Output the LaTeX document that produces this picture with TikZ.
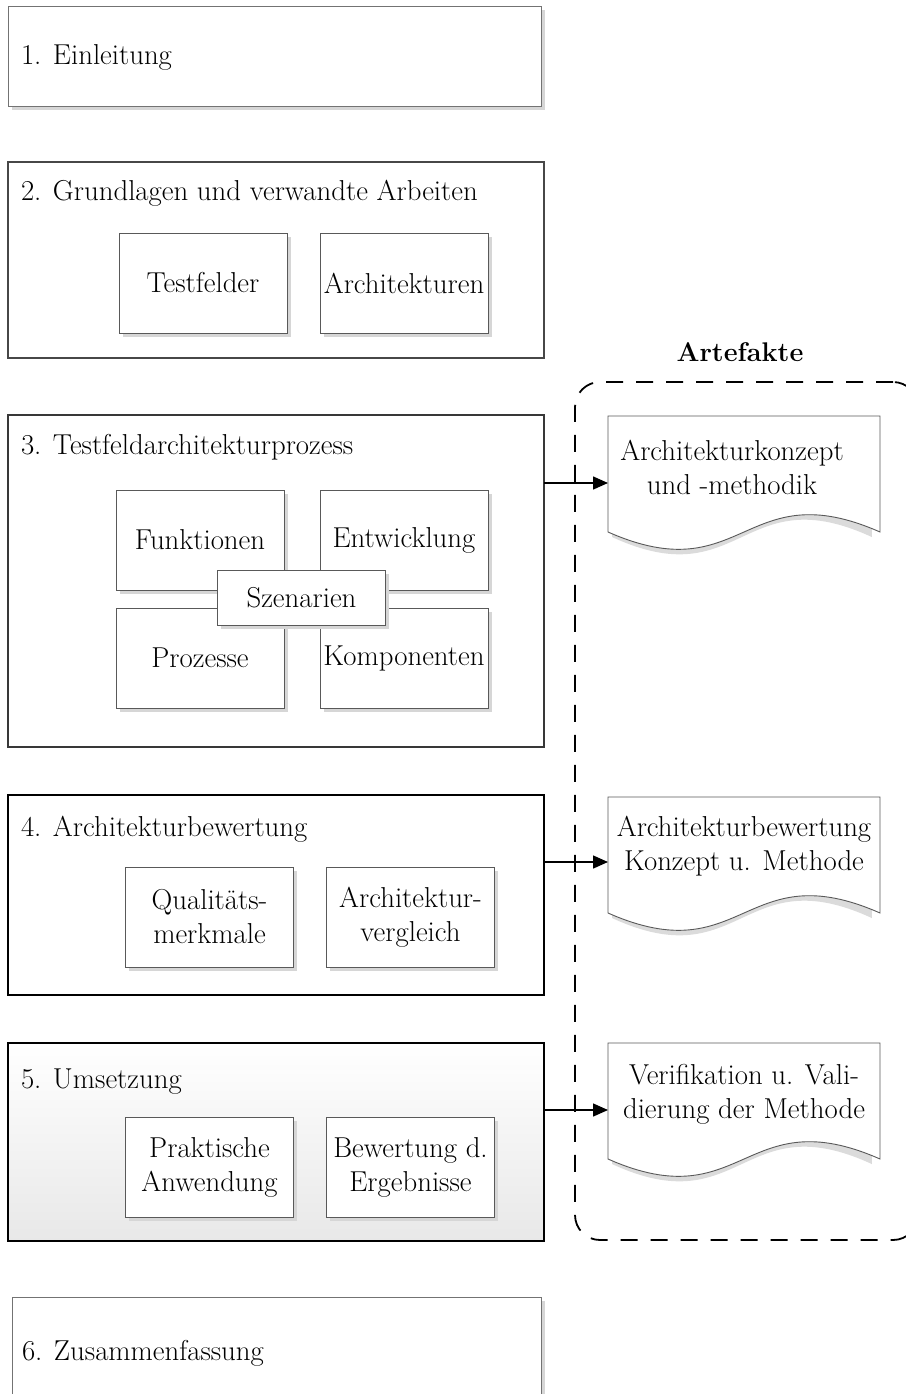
\documentclass[tikz,border=0pt]{standalone}
\usetikzlibrary{arrows.meta,shadows}
\begin{document}
\begin{tikzpicture}[x=1pt,y=-1pt,
  every node/.style={font=\fontsize{28.8}{34}\selectfont, inner sep=0pt, outer sep=0pt},
  shd/.style={drop shadow={shadow xshift=3.5pt, shadow yshift=-3.5pt, fill=black!16, opacity=1}},
  chapter/.style={minimum width=536pt, line width=1.3pt, draw=black!72},
  lightchapter/.style={minimum width=533pt, line width=1pt, draw=black!55, fill=white, shd},
  subbox/.style={draw=black!65, line width=0.9pt, fill=white, shd,
                 minimum width=168pt, minimum height=100pt, align=center},
  title/.style={anchor=base west},
  arr/.style={line width=1.5pt, -{Triangle[length=15pt,width=13pt]}},
  docline/.style={draw=black!65, line width=0.9pt, fill=white},
  docshadow/.style={fill=black!14},
  artframe/.style={draw=black, line width=1.8pt, dash pattern=on 17pt off 13pt,
                   rounded corners=25pt}]
\useasboundingbox (0,0) rectangle (905,1394);

% ---- chapter 1 ----
\node[lightchapter, minimum height=100pt] (b1) at (274.5,57) {};
\node[title] (t1) at (21,65) {1. Einleitung};

% ---- chapter 2 ----
\node[chapter, minimum height=196pt] (b2) at (276,260) {};
\node[title] (t2) at (21,200) {2. Grundlagen und verwandte Arbeiten};
\node[subbox] (testf) at (203,283) {Testfelder};
\node[subbox] (archi) at (404,283) {Architekturen};

% ---- chapter 3 ----
\node[chapter, minimum height=332pt, draw=black!78] (b3) at (276,581) {};
\node[title] (t3) at (21,454) {3. Testfeldarchitekturprozess};
\node[subbox] (funk) at (200,540) {Funktionen};
\node[subbox] (entw) at (404,540) {Entwicklung};
\node[subbox] (proz) at (200,658) {Prozesse};
\node[subbox] (komp) at (404,658) {Komponenten};
\node[subbox, minimum width=168pt, minimum height=55pt] (szen) at (301.5,597.5) {Szenarien};

% ---- chapter 4 ----
\node[chapter, minimum height=200pt, draw=black, line width=2pt] (b4) at (276,895) {};
\node[title] (t4) at (21,836) {4. Architekturbewertung};
\node[subbox] (qual) at (209.5,917) {Qualitäts-\\merkmale};
\node[subbox] (avgl) at (410.5,917) {Architektur-\\vergleich};

% ---- chapter 5 ----
\node[chapter, minimum height=198pt, draw=black, line width=2pt,
      top color=white, bottom color=black!9] (b5) at (276,1142) {};
\node[title] (t5) at (21,1088) {5. Umsetzung};
\node[subbox] (prak) at (209.5,1167) {Praktische\\Anwendung};
\node[subbox] (bew) at (410.5,1167) {Bewertung d.\\Ergebnisse};

% ---- chapter 6 ----
\node[lightchapter, minimum width=529pt, minimum height=130pt] (b6) at (276.5,1362) {};
\node[title] (t6) at (22,1360) {6. Zusammenfassung};

% ---- artefacts frame ----
\node[artframe, minimum width=343pt, minimum height=858pt] (art) at (746.5,811) {};
\node[font=\fontsize{27}{32}\selectfont\bfseries] (artlbl) at (740,352) {Artefakte};

% ---- documents ----
\foreach \top in {416, 797, 1043}{
  \begin{scope}[shift={(612,\top+5)}, xscale=0.955]
    \path[docshadow] (0,0) -- (272,0) -- (272,116)
      .. controls (136,56) and (136,176) .. (0,116) -- cycle;
  \end{scope}
  \begin{scope}[shift={(608,\top)}]
    \path[docline] (0,0) -- (272,0) -- (272,116)
      .. controls (136,56) and (136,176) .. (0,116) -- cycle;
  \end{scope}
}
\node[align=center] (d1) at (732,467) {Architekturkonzept\\und -methodik};
\node[align=center] (d2) at (744,846) {Architekturbewertung\\Konzept u. Methode};
\node[align=center] (d3) at (744,1094) {Verifikation u. Vali-\\dierung der Methode};

% ---- connectors ----
\coordinate (d1in) at (608,483);
\coordinate (d2in) at (608,862);
\coordinate (d3in) at (608,1110);
\draw[arr] (b3.east |- d1in) -- (d1in);
\draw[arr] (b4.east |- d2in) -- (d2in);
\draw[arr] (b5.east |- d3in) -- (d3in);
\end{tikzpicture}
\end{document}
